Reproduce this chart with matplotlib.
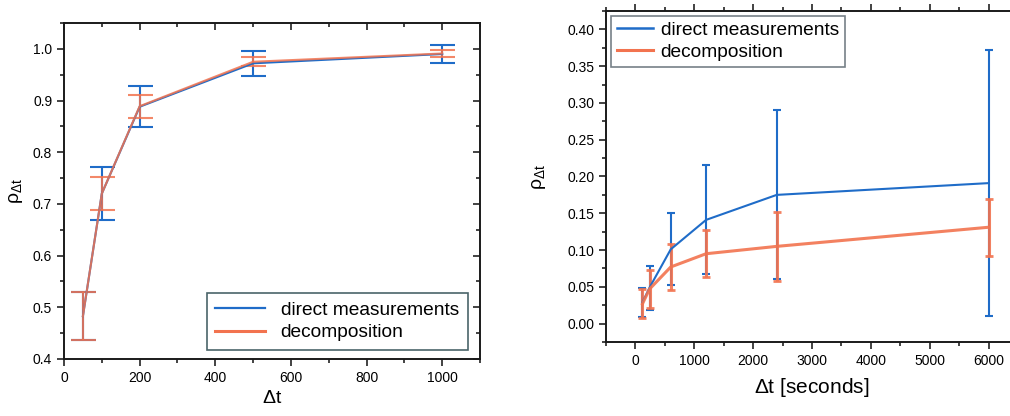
import numpy as np
import matplotlib
matplotlib.use("Agg")
import matplotlib.pyplot as plt
from matplotlib.lines import Line2D
from matplotlib.ticker import MultipleLocator, FormatStrFormatter

plt.rcParams['font.family'] = ['Liberation Sans', 'DejaVu Sans']
plt.rcParams['mathtext.default'] = 'regular'

BLUE = '#1f6cc8'
ORANGE = '#f2734f'

# left panel: short time lags
dt_left = [50, 100, 200, 500, 1000]
direct_left = [0.483, 0.720, 0.888, 0.972, 0.990]
direct_left_err = [0.046, 0.052, 0.040, 0.024, 0.017]
decomp_left = [0.483, 0.720, 0.889, 0.975, 0.991]
decomp_left_err = [0.046, 0.032, 0.022, 0.009, 0.006]

# right panel: time lags in seconds
dt_right = [120, 240, 600, 1200, 2400, 6000]
direct_right = [0.029, 0.049, 0.101, 0.141, 0.175, 0.191]
direct_right_err = [0.020, 0.030, 0.049, 0.074, 0.115, 0.181]
decomp_right = [0.027, 0.047, 0.077, 0.095, 0.105, 0.131]
decomp_right_err = [0.020, 0.026, 0.031, 0.032, 0.047, 0.039]

labels = ['direct measurements', 'decomposition']

fig = plt.figure(figsize=(10.1, 4.16), dpi=100)

# ---- left panel
ax1 = fig.add_axes([64/1010, 1-359/416, (480-64)/1010, (359-23)/416])
ax1.errorbar(dt_left, direct_left, yerr=direct_left_err, color=BLUE, lw=1.5,
             elinewidth=1.5, capsize=9, capthick=1.5)
ax1.errorbar(dt_left, decomp_left, yerr=decomp_left_err, color=ORANGE, lw=1.5,
             elinewidth=1.5, capsize=9, capthick=1.5, alpha=0.85)
ax1.set_xlim(0, 1100)
ax1.set_ylim(0.4, 1.05)
ax1.xaxis.set_major_locator(MultipleLocator(200))
ax1.xaxis.set_minor_locator(MultipleLocator(100))
ax1.yaxis.set_major_locator(MultipleLocator(0.1))
ax1.yaxis.set_minor_locator(MultipleLocator(0.05))
ax1.yaxis.set_major_formatter(FormatStrFormatter('%.1f'))
ax1.tick_params(which='both', top=True, right=True, labelsize=10, color='#222222', width=1.2)
ax1.tick_params(which='major', length=5)
ax1.tick_params(which='minor', length=3)
ax1.set_xlabel(r'$\Delta$t', fontsize=14, labelpad=4)
ax1.set_ylabel(r'$\rho_{\Delta t}$', fontsize=14, labelpad=6)
h1 = [Line2D([], [], color=BLUE, lw=1.6), Line2D([], [], color=ORANGE, lw=2.2)]
leg1 = ax1.legend(h1, labels, loc='lower right', fontsize=13.8, frameon=True, fancybox=False,
                  handlelength=2.6, borderaxespad=0, bbox_to_anchor=(0.97, 0.027),
                  labelspacing=0.25, borderpad=0.45)
leg1.get_frame().set_edgecolor('#1d3d44')
leg1.get_frame().set_linewidth(1.2)
# inward ticks on top/right, outward on left/bottom
for t in ax1.xaxis.get_major_ticks() + ax1.xaxis.get_minor_ticks():
    t.tick2line.set_marker(3)
for t in ax1.yaxis.get_major_ticks() + ax1.yaxis.get_minor_ticks():
    t.tick2line.set_marker(0)

# ---- right panel
ax2 = fig.add_axes([606/1010, 1-342/416, (1018-606)/1010, (342-11)/416])
ax2.errorbar(dt_right, direct_right, yerr=direct_right_err, color=BLUE, lw=1.5,
             elinewidth=1.5, capsize=3, capthick=1.5)
ax2.errorbar(dt_right, decomp_right, yerr=decomp_right_err, color=ORANGE, lw=2.2,
             elinewidth=2.2, capsize=3, capthick=2.0, alpha=0.9)
ax2.set_xlim(-500, 6500)
ax2.set_ylim(-0.025, 0.425)
ax2.xaxis.set_major_locator(MultipleLocator(1000))
ax2.xaxis.set_minor_locator(MultipleLocator(500))
ax2.yaxis.set_major_locator(MultipleLocator(0.05))
ax2.yaxis.set_minor_locator(MultipleLocator(0.025))
ax2.yaxis.set_major_formatter(FormatStrFormatter('%.2f'))
ax2.tick_params(which='both', top=True, labelsize=10, color='#222222', width=1.2)
ax2.tick_params(which='major', length=5)
ax2.tick_params(which='minor', length=3)
ax2.spines['right'].set_visible(False)
ax2.set_xlabel(r'$\Delta$t [seconds]', fontsize=15, labelpad=6)
ax2.set_ylabel(r'$\rho_{\Delta t}$', fontsize=14, labelpad=14)
h2 = [Line2D([], [], color=BLUE, lw=1.8), Line2D([], [], color=ORANGE, lw=2.2)]
leg2 = ax2.legend(h2, labels, loc='upper left', fontsize=13.8, frameon=True, fancybox=False,
                  handlelength=1.9, borderaxespad=0.25, handletextpad=0.4,
                  borderpad=0.3, labelspacing=0.25)
leg2.get_frame().set_edgecolor('#55606a')
leg2.get_frame().set_linewidth(1.2)

for ax in (ax1, ax2):
    for s in ax.spines.values():
        s.set_linewidth(1.4)
        s.set_color('#1a1a1a')

fig.savefig('out.png', dpi=100)
